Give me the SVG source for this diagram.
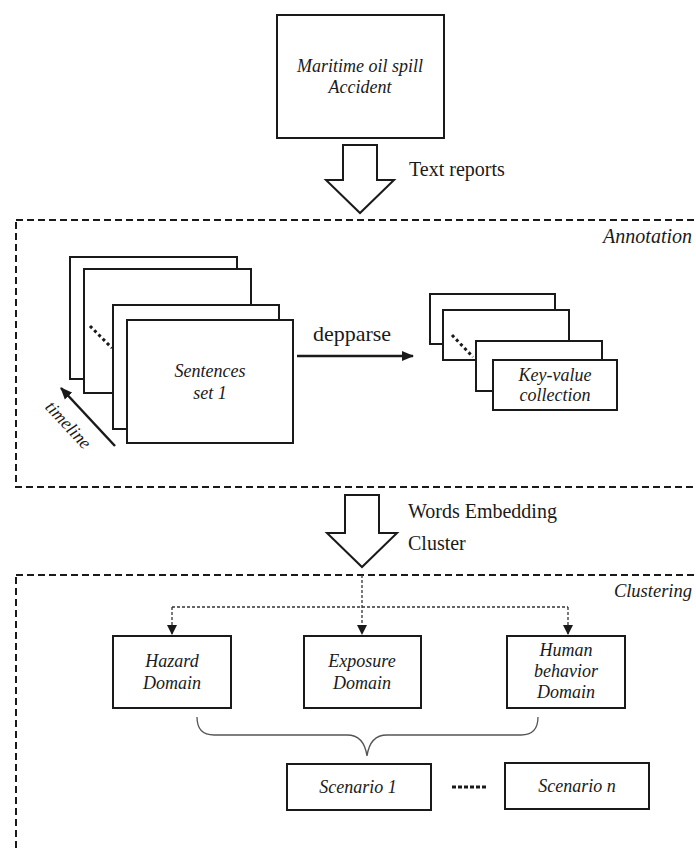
<svg xmlns="http://www.w3.org/2000/svg" width="696" height="848" viewBox="0 0 696 848">
<defs>
<style>
.box{fill:#fff;stroke:#1a1a1a;stroke-width:2}
.frame{fill:none;stroke:#1a1a1a;stroke-width:2;stroke-dasharray:7 4}
.it{font-family:"Liberation Serif",serif;font-style:italic;font-size:18px;fill:#1a1a1a;text-anchor:middle}
.rg{font-family:"Liberation Serif",serif;font-size:20px;fill:#1a1a1a}
.hollow{fill:#fff;stroke:#1a1a1a;stroke-width:2;stroke-linejoin:miter}
.dots{stroke:#1a1a1a;stroke-width:3;stroke-dasharray:3 3;fill:none}
.dline{stroke:#333;stroke-width:1.3;stroke-dasharray:3 2;fill:none}
</style>
<marker id="ah" markerWidth="10" markerHeight="10" refX="9" refY="5" orient="auto" markerUnits="userSpaceOnUse" viewBox="0 0 10 10">
<path d="M0,0 L10,5 L0,10 Z" fill="#1a1a1a"/>
</marker>
<marker id="ahs" markerWidth="12" markerHeight="12" refX="11" refY="6" orient="auto" markerUnits="userSpaceOnUse" viewBox="0 0 12 12">
<path d="M0,1 L12,6 L0,11 Z" fill="#1a1a1a"/>
</marker>
</defs>

<g id="frames">
<rect class="frame" x="16" y="220" width="700" height="267"/>
<rect class="frame" x="16" y="575" width="700" height="300"/>
<text class="it" x="692" y="243" style="text-anchor:end;font-size:20px">Annotation</text>
<text class="it" x="692" y="597" style="text-anchor:end;font-size:18.5px">Clustering</text>
</g>

<g id="accident">
<rect class="box" x="277" y="15" width="167" height="123"/>
<text class="it" x="360" y="72">Maritime oil spill</text>
<text class="it" x="360" y="93">Accident</text>
</g>

<g id="arrow-text-reports">
<polygon class="hollow" points="343,145 377,145 377,180 394,180 360,213 326,180 343,180"/>
<text class="rg" x="409" y="176">Text reports</text>
</g>

<g id="sentences">
<rect class="box" x="70" y="257" width="167" height="122"/>
<rect class="box" x="84" y="269" width="167" height="124"/>
<rect class="box" x="113" y="305" width="166" height="124"/>
<rect class="box" x="127" y="320" width="166" height="123"/>
<line class="dots" x1="90" y1="326" x2="112" y2="348"/>
<text class="it" x="210" y="377">Sentences</text>
<text class="it" x="210" y="399">set 1</text>
</g>

<g id="timeline">
<line x1="115" y1="446" x2="61" y2="388" stroke="#1a1a1a" stroke-width="2.5" marker-end="url(#ahs)"/>
<text class="it" transform="translate(64,429) rotate(47)" x="0" y="0">timeline</text>
</g>

<g id="keyvalue">
<rect class="box" x="430" y="294" width="125" height="50"/>
<rect class="box" x="443" y="310" width="126" height="50"/>
<rect class="box" x="476" y="341" width="126" height="50"/>
<rect class="box" x="493" y="360" width="124" height="50"/>
<line class="dots" x1="452" y1="335" x2="473" y2="357"/>
<text class="it" x="555" y="381">Key-value</text>
<text class="it" x="555" y="401">collection</text>
</g>

<g id="connectors">
<line x1="297" y1="356" x2="413" y2="356" stroke="#1a1a1a" stroke-width="2.5" marker-end="url(#ahs)"/>
<text class="rg" x="352" y="341" style="text-anchor:middle;font-size:22px">depparse</text>
<polygon class="hollow" points="345,495 379,495 379,533 397,533 362,567 327,533 345,533"/>
<text class="rg" x="408" y="518">Words Embedding</text>
<text class="rg" x="408" y="550">Cluster</text>
<line class="dline" x1="362" y1="575" x2="362" y2="634" marker-end="url(#ah)"/>
<polyline class="dline" points="172,607 568,607"/>
<line class="dline" x1="172" y1="607" x2="172" y2="634" marker-end="url(#ah)"/>
<line class="dline" x1="568" y1="607" x2="568" y2="634" marker-end="url(#ah)"/>
<path d="M197,717 Q197,735 214,735 L347,735 Q364,735 367,756 Q370,735 387,735 L521,735 Q538,735 538,717" fill="none" stroke="#555" stroke-width="1.3"/>
<line x1="452" y1="787" x2="487" y2="787" stroke="#1a1a1a" stroke-width="3" stroke-dasharray="4 2"/>
</g>

<g id="hazard">
<rect class="box" x="113" y="636" width="118" height="72"/>
<text class="it" x="172" y="667">Hazard</text>
<text class="it" x="172" y="689">Domain</text>
</g>
<g id="exposure">
<rect class="box" x="304" y="636" width="117" height="72"/>
<text class="it" x="362" y="667">Exposure</text>
<text class="it" x="362" y="689">Domain</text>
</g>
<g id="human">
<rect class="box" x="507" y="636" width="118" height="72"/>
<text class="it" x="566" y="656">Human</text>
<text class="it" x="566" y="677">behavior</text>
<text class="it" x="566" y="698">Domain</text>
</g>
<g id="scenario1">
<rect class="box" x="287" y="764" width="144" height="46"/>
<text class="it" x="358" y="793">Scenario 1</text>
</g>
<g id="scenarion">
<rect class="box" x="505" y="763" width="144" height="46"/>
<text class="it" x="577" y="792">Scenario n</text>
</g>
</svg>
